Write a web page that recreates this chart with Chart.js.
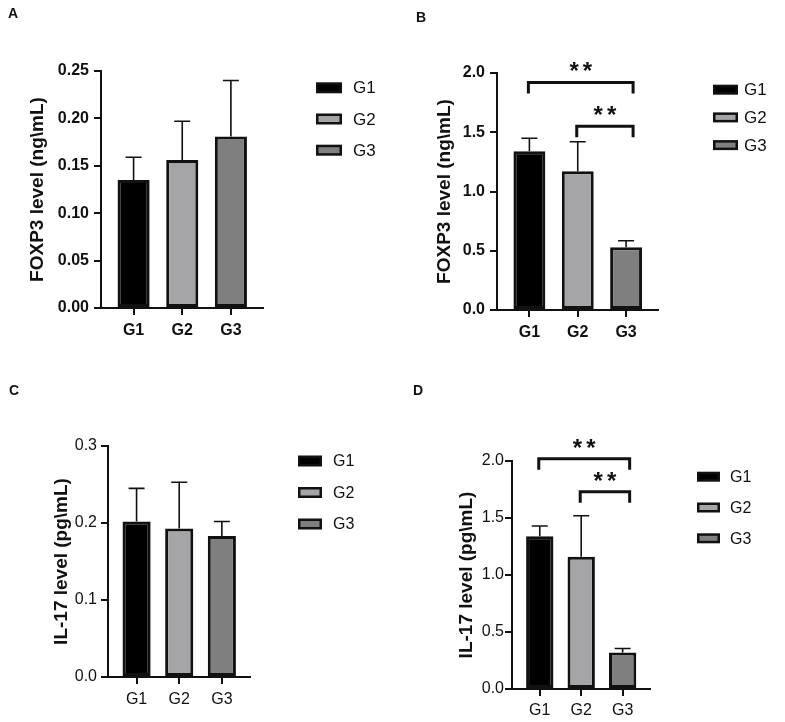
<!DOCTYPE html>
<html lang="en">
<head>
  <meta charset="UTF-8">
  <title>FOXP3 and IL-17 levels</title>
  <script src="https://cdn.jsdelivr.net/npm/chart.js"></script>
  <style>
    body { margin: 0; background: #fff; }
    #page { position: relative; width: 785px; height: 722px; background: #fff; font-family: Arial, "Liberation Sans", sans-serif; }
    canvas { position: absolute; }
    .tag { position: absolute; font-weight: bold; font-size: 14px; line-height: 14px; color: #111; }
  </style>
</head>
<body>
  <div id="page">
    <canvas id="chartA" width="392" height="361" style="left:0;top:0"></canvas>
    <canvas id="chartB" width="393" height="361" style="left:392px;top:0"></canvas>
    <canvas id="chartC" width="392" height="361" style="left:0;top:361px"></canvas>
    <canvas id="chartD" width="393" height="361" style="left:392px;top:361px"></canvas>
    <div class="tag" style="left:8px;top:6px">A</div>
    <div class="tag" style="left:416px;top:10px">B</div>
    <div class="tag" style="left:9px;top:383px">C</div>
    <div class="tag" style="left:413px;top:383px">D</div>
  </div>

  <script>
    const groups = ['G1', 'G2', 'G3'];

    // FOXP3 level (ng\mL), mean and SD
    const foxp3A = [0.135, 0.156, 0.181];
    const foxp3ASd = [0.024, 0.041, 0.059];
    const foxp3B = [1.34, 1.17, 0.53];
    const foxp3BSd = [0.11, 0.25, 0.055];

    // IL-17 level (pg\mL), mean and SD
    const il17C = [0.202, 0.193, 0.183];
    const il17CSd = [0.043, 0.060, 0.019];
    const il17D = [1.34, 1.16, 0.32];
    const il17DSd = [0.09, 0.36, 0.035];

    // y axis ticks
    const ticksA = [0, 0.05, 0.10, 0.15, 0.20, 0.25];
    const ticksB = [0, 0.5, 1.0, 1.5, 2.0];
    const ticksC = [0, 0.1, 0.2, 0.3];
    const ticksD = [0, 0.5, 1.0, 1.5, 2.0];

    // significance brackets: [from group, to group, height, label]
    const sigB = [[0, 2, 1.92, '**'], [1, 2, 1.55, '**']];
    const sigD = [[0, 2, 2.02, '**'], [1, 2, 1.73, '**']];

    const fills = ['#000000', '#a5a5a8', '#7f7f7f'];
    const ink = '#111111';

    Chart.defaults.font.family = 'Arial, "Liberation Sans", sans-serif';

    const errorBars = {
      id: 'errorBars',
      afterDatasetsDraw(chart) {
        const ctx = chart.ctx;
        const y = chart.scales.y;
        ctx.save();
        ctx.strokeStyle = ink;
        ctx.lineWidth = 1.6;
        chart.data.datasets.forEach((ds, i) => {
          const bar = chart.getDatasetMeta(i).data[0];
          const top = y.getPixelForValue(ds.data[0].y + ds.sd);
          ctx.beginPath();
          ctx.moveTo(bar.x, bar.y);
          ctx.lineTo(bar.x, top);
          ctx.moveTo(bar.x - 8, top);
          ctx.lineTo(bar.x + 8, top);
          ctx.stroke();
        });
        ctx.restore();
      }
    };

    const brackets = {
      id: 'brackets',
      afterDraw(chart, args, opts) {
        if (!opts.items) return;
        const ctx = chart.ctx;
        const x = chart.scales.x, y = chart.scales.y;
        ctx.save();
        ctx.strokeStyle = ink;
        ctx.fillStyle = ink;
        ctx.lineWidth = 3;
        opts.items.forEach(([a, b, h, label]) => {
          const x1 = x.getPixelForValue(a) - 1;
          const x2 = x.getPixelForValue(b) + 7;
          const py = y.getPixelForValue(h);
          ctx.beginPath();
          ctx.moveTo(x1, py + 11);
          ctx.lineTo(x1, py);
          ctx.lineTo(x2, py);
          ctx.lineTo(x2, py + 11);
          ctx.stroke();
          ctx.font = 'bold 24px Arial, "Liberation Sans", sans-serif';
          ctx.letterSpacing = '4px';
          ctx.textAlign = 'center';
          ctx.textBaseline = 'alphabetic';
          ctx.fillText(label, (x1 + x2) / 2 + 2, py - 16 + 13);
        });
        ctx.restore();
      }
    };

    const boxLegend = {
      id: 'boxLegend',
      afterDraw(chart, args, opts) {
        const ctx = chart.ctx;
        ctx.save();
        ctx.font = opts.size + 'px Arial, "Liberation Sans", sans-serif';
        ctx.textBaseline = 'middle';
        ctx.textAlign = 'left';
        chart.data.datasets.forEach((ds, i) => {
          const cy = opts.y + i * opts.gap;
          ctx.fillStyle = ds.borderColor;
          ctx.fillRect(opts.x, cy - opts.h / 2, opts.w, opts.h);
          ctx.fillStyle = ds.backgroundColor;
          ctx.fillRect(opts.x + 2.5, cy - opts.h / 2 + 2.5, opts.w - 5, opts.h - 5);
          ctx.fillStyle = ink;
          ctx.fillText(ds.label, opts.textX, cy + 1);
        });
        ctx.restore();
      }
    };

    function makePanel(id, values, sds, ticks, decimals, title, area, look) {
      const canvas = document.getElementById(id);
      const H = canvas.height;
      const W = canvas.width;
      const weight = look.bold ? 'bold' : 'normal';
      return new Chart(canvas, {
        type: 'bar',
        data: {
          datasets: groups.map((g, i) => ({
            label: g,
            data: [{ x: i, y: values[i] }],
            sd: sds[i],
            backgroundColor: fills[i],
            borderColor: ink,
            borderWidth: 3,
            borderSkipped: false,
            grouped: false,
            categoryPercentage: 1,
            barPercentage: 0.66
          }))
        },
        options: {
          responsive: false,
          animation: false,
          events: [],
          layout: { padding: { left: 0, top: area.top, right: W - area.right, bottom: 0 } },
          scales: {
            x: {
              type: 'linear',
              offset: false,
              min: -0.67,
              max: 2.66,
              afterBuildTicks: s => { s.ticks = groups.map((g, i) => ({ value: i })); },
              afterFit: s => { s.height = H - area.bottom; },
              grid: { offset: false, drawOnChartArea: false, drawTicks: true, tickLength: 7, color: ink, lineWidth: 2 },
              border: { color: ink, width: 2 },
              ticks: {
                callback: v => groups[v],
                color: ink,
                autoSkip: false,
                maxRotation: 0,
                padding: look.xPad,
                font: { size: look.tickSize, weight: weight }
              }
            },
            y: {
              min: ticks[0],
              max: ticks[ticks.length - 1],
              afterBuildTicks: s => { s.ticks = ticks.map(v => ({ value: v })); },
              afterFit: s => { s.width = area.left; },
              grid: { drawOnChartArea: false, drawTicks: true, tickLength: 7, color: ink, lineWidth: 2 },
              border: { color: ink, width: 2 },
              ticks: {
                callback: v => v.toFixed(decimals),
                color: ink,
                padding: look.yPad,
                font: { size: look.tickSize, weight: weight }
              },
              title: {
                display: true,
                text: title,
                color: ink,
                font: { size: 19, weight: 'bold' },
                padding: { top: look.titleX - 11.4, bottom: 0 }
              }
            }
          },
          plugins: {
            legend: { display: false },
            tooltip: { enabled: false },
            brackets: { items: look.sig },
            boxLegend: look.legend
          }
        },
        plugins: [errorBars, brackets, boxLegend]
      });
    }

    makePanel('chartA', foxp3A, foxp3ASd, ticksA, 2, 'FOXP3 level (ng\\mL)',
      { left: 101, right: 263, top: 71, bottom: 308 },
      { bold: true, tickSize: 16, xPad: 6, yPad: 5, titleX: 38, sig: null,
        legend: { x: 316, y: 87.8, gap: 31.2, w: 26, h: 11, textX: 353, size: 17 } });

    makePanel('chartB', foxp3B, foxp3BSd, ticksB, 1, 'FOXP3 level (ng\\mL)',
      { left: 105, right: 266, top: 73, bottom: 310 },
      { bold: true, tickSize: 16, xPad: 6, yPad: 5, titleX: 53, sig: sigB,
        legend: { x: 321, y: 89.7, gap: 27.7, w: 25, h: 10, textX: 352, size: 17 } });

    makePanel('chartC', il17C, il17CSd, ticksC, 1, 'IL-17 level (pg\\mL)',
      { left: 108, right: 250, top: 85, bottom: 316 },
      { bold: false, tickSize: 16, xPad: 6, yPad: 4, titleX: 61.7, sig: null,
        legend: { x: 298, y: 100, gap: 31.5, w: 24, h: 11, textX: 333, size: 16 } });

    makePanel('chartD', il17D, il17DSd, ticksD, 1, 'IL-17 level (pg\\mL)',
      { left: 120, right: 258, top: 100, bottom: 328 },
      { bold: false, tickSize: 16, xPad: 5, yPad: 1, titleX: 74.7, sig: sigD,
        legend: { x: 305, y: 115.7, gap: 30.8, w: 23, h: 10, textX: 338, size: 16 } });
  </script>
</body>
</html>
